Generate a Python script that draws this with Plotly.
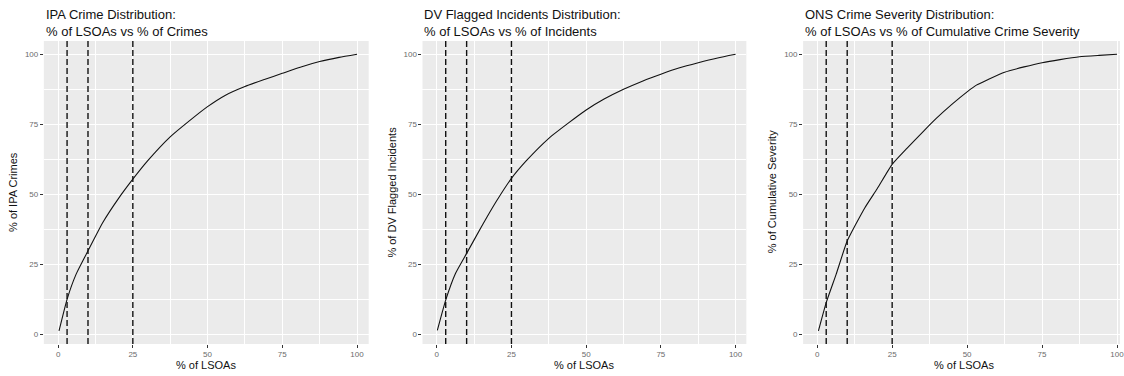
import plotly.graph_objects as go

# ---------------- data ----------------
ipa_x = [0.3, 3, 6, 10, 15, 20, 25, 30, 37.5, 44, 50, 56, 62.5, 69, 75, 81, 87.5, 94, 100]
ipa_y = [1.2, 12.5, 21.4, 29.8, 40.0, 48.2, 55.4, 62.0, 70.5, 76.3, 81.3, 85.4, 88.5, 91.0, 93.2, 95.4, 97.4, 98.9, 100]

dv_x = [0.2, 3, 6.3, 10, 15, 20, 25, 30, 37.5, 44, 50, 56, 62.5, 69, 75, 81, 87.5, 94, 100]
dv_y = [1.4, 12.2, 21.8, 28.9, 38.5, 47.6, 55.7, 62.0, 70.0, 75.4, 80.1, 84.0, 87.5, 90.5, 92.9, 95.1, 97.0, 98.7, 100]

ons_x = [0.4, 3, 6.3, 10, 15.9, 20, 25, 30, 35.5, 39.8, 45, 50, 53.1, 57, 62.5, 69, 75, 81, 87.5, 94, 100]
ons_y = [1.2, 11.3, 21.4, 33.3, 45.2, 52.0, 60.7, 66.5, 72.6, 77.2, 82.2, 86.6, 89.0, 91.0, 93.6, 95.5, 97.0, 98.1, 99.1, 99.6, 100]

cutoffs = [3, 10, 25]
tick_vals = [0, 25, 50, 75, 100]
tick_text = ["0", "25", "50", "75", "100"]

titles = [
    "IPA Crime Distribution:<br>% of LSOAs vs % of Crimes",
    "DV Flagged Incidents Distribution:<br>% of LSOAs vs % of Incidents",
    "ONS Crime Severity Distribution:<br>% of LSOAs vs % of Cumulative Crime Severity",
]
y_titles = ["% of IPA Crimes", "% of DV Flagged Incidents", "% of Cumulative Severity"]
x_title = "% of LSOAs"

# ---------------- layout geometry ----------------
W, H = 1124, 376
panels_px = [(44, 370), (424, 749), (806, 1124)]
x_ranges = [[-4.77, 103.9], [-4.77, 103.6], [-4.7, 101.0]]
plot_top, plot_bot = 41, 344
y_dom = [(H - plot_bot) / H, (H - plot_top) / H]
y_range = [-3.46, 104.75]

FONT = "Liberation Sans, Arial, sans-serif"

fig = go.Figure()
series = [(ipa_x, ipa_y), (dv_x, dv_y), (ons_x, ons_y)]

for i, (xs, ys) in enumerate(series):
    sfx = "" if i == 0 else str(i + 1)
    fig.add_trace(go.Scatter(
        x=xs, y=ys, mode="lines",
        line=dict(color="#111111", width=1.1, shape="spline", smoothing=0.5),
        xaxis="x" + sfx, yaxis="y" + sfx, showlegend=False, hoverinfo="skip",
    ))

axis_common = dict(
    tickmode="array", tickvals=tick_vals, ticktext=tick_text,
    ticks="outside", ticklen=3, tickwidth=1, tickcolor="#333333",
    tickfont=dict(family=FONT, size=8, color="#6b6b6b"),
    showgrid=True, gridcolor="white", gridwidth=1.2,
    zeroline=False, showline=False,
    minor=dict(tick0=0, dtick=12.5, showgrid=True, gridcolor="white", gridwidth=0.6, ticks=""),
)

layout = dict(
    width=W, height=H, autosize=False,
    margin=dict(l=0, r=0, t=0, b=0),
    paper_bgcolor="white", plot_bgcolor="#EBEBEB",
    showlegend=False,
)

annotations = []
shapes = []
for i in range(3):
    sfx = "" if i == 0 else str(i + 1)
    x0p, x1p = panels_px[i]
    layout["xaxis" + sfx] = dict(
        axis_common, domain=[x0p / W, x1p / W], range=x_ranges[i],
        anchor="y" + sfx, ticklabelstandoff=-1, ticklabeloverflow="allow",
    )
    layout["yaxis" + sfx] = dict(
        axis_common, domain=y_dom, range=y_range, anchor="x" + sfx,
    )
    # titles
    annotations.append(dict(
        text=titles[i], xref="paper", yref="paper",
        x=x0p / W, y=(H - 5) / H, xanchor="left", yanchor="top", align="left",
        showarrow=False, font=dict(family=FONT, size=13, color="#111111"),
    ))
    # x axis title
    annotations.append(dict(
        text=x_title, xref="paper", yref="paper",
        x=(x0p + x1p) / 2 / W if i < 2 else (x0p + 1128) / 2 / W,
        y=(H - 365) / H, xanchor="center", yanchor="middle",
        showarrow=False, font=dict(family=FONT, size=11, color="#111111"),
    ))
    # y axis title
    annotations.append(dict(
        text=y_titles[i], xref="paper", yref="paper",
        x=(x0p - 31) / W, y=(H - 192) / H, xanchor="center", yanchor="middle",
        textangle=-90, showarrow=False,
        font=dict(family=FONT, size=11, color="#111111"),
    ))
    for c in cutoffs:
        shapes.append(dict(
            type="line", xref="x" + sfx, yref="y" + sfx + " domain",
            x0=c, x1=c, y0=0, y1=1,
            line=dict(color="#111111", width=1.4, dash="6px,3px"),
        ))

layout["annotations"] = annotations
layout["shapes"] = shapes
fig.update_layout(**layout)

fig.write_html(
    "out.html",
    config={"displayModeBar": False},
    post_script="document.body.style.margin='0';document.body.style.padding='0';",
)
